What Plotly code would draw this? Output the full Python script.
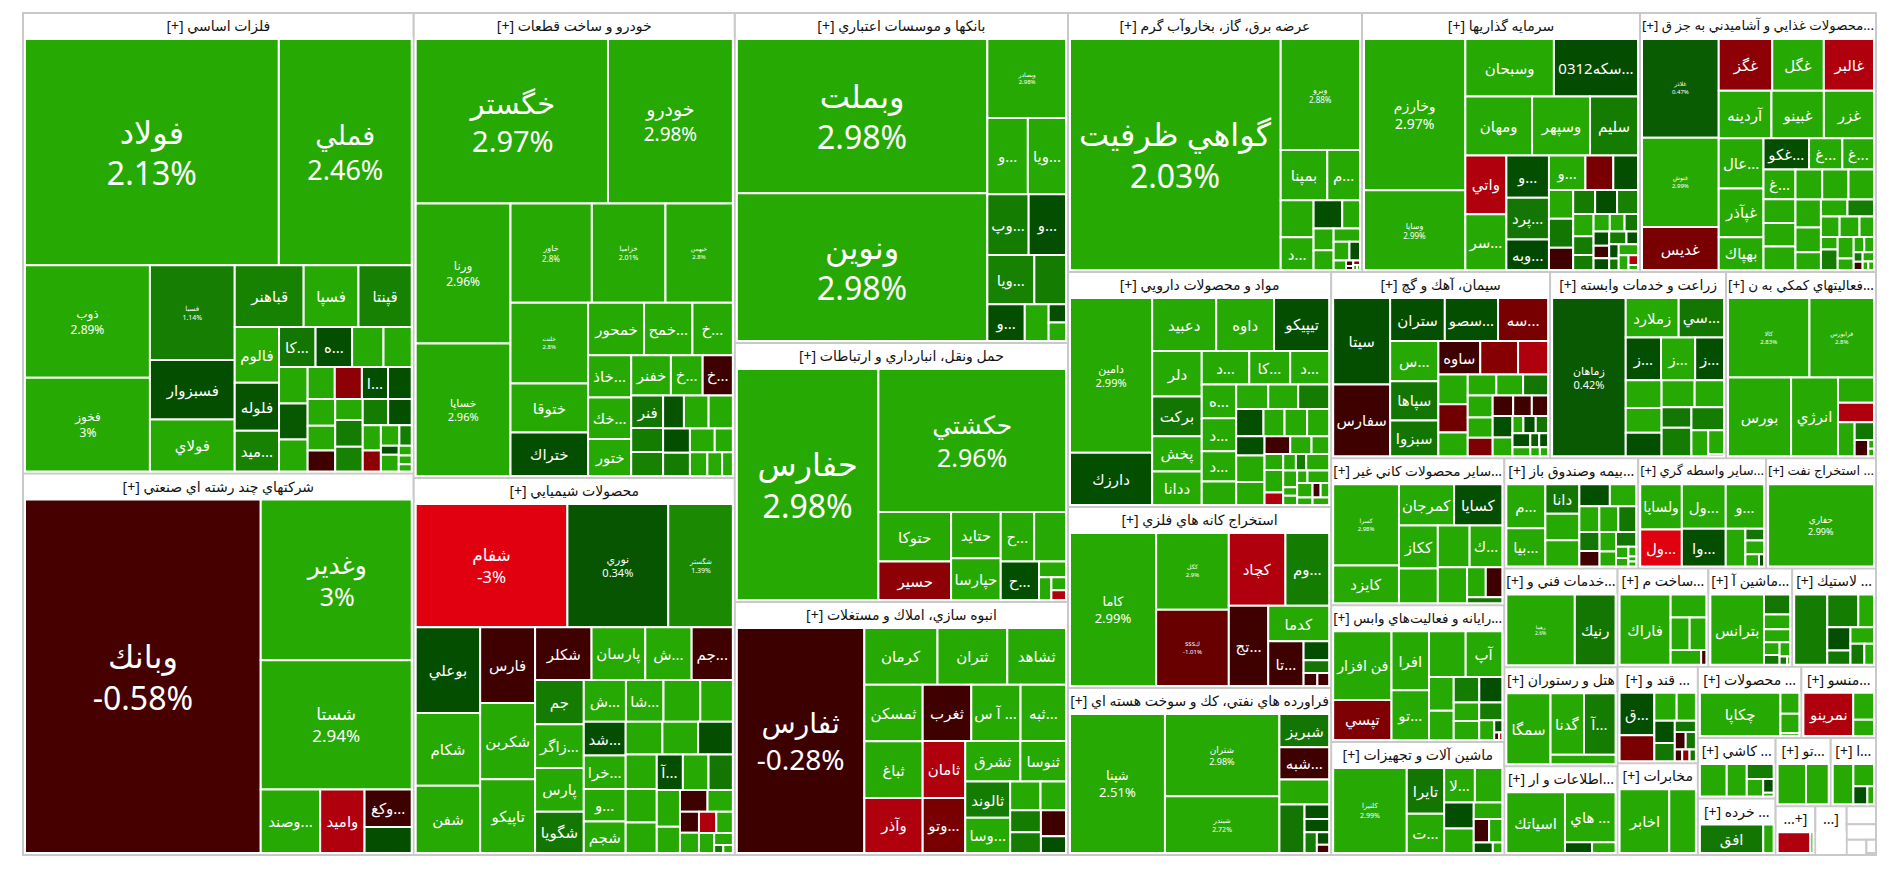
import plotly.graph_objects as go

# ---- sector headers and totals ----
sector_titles = [
    "فلزات اساسي [+]", "شركتهاي چند رشته اي صنعتي [+]", "خودرو و ساخت قطعات [+]", "محصولات شيميايي [+]",
    "بانكها و موسسات اعتباري [+]", "حمل ونقل، انبارداري و ارتباطات [+]", "انبوه سازي، املاك و مستغلات [+]",
    "عرضه برق، گاز، بخاروآب گرم [+]", "سرمايه گذاريها [+]", "...محصولات غذايي و آشاميدني به جز ق [+]",
    "مواد و محصولات دارويي [+]", "استخراج كانه هاي فلزي [+]", "فراورده هاي نفتي، كك و سوخت هسته اي [+]",
    "سيمان، آهك و گچ [+]", "زراعت و خدمات وابسته [+]", "...فعاليتهاي كمكي به ن [+]",
    "...ساير محصولات كاني غير [+]", "...رايانه و فعاليت‌هاي وابس [+]", "ماشين آلات و تجهيزات [+]",
    "...بيمه وصندوق باز [+]", "...ساير واسطه گري [+]", "... استخراج نفت [+]",
    "...خدمات فني و [+]", "هتل و رستوران [+]", "...اطلاعات و ار [+]",
    "...ساخت م [+]", "...ماشين آ [+]", "... لاستيك [+]",
    "... قند و [+]", "مخابرات [+]", "... محصولات [+]", "...منسو [+]",
    "... كاشي [+]", "... خرده [+]", "...تو [+]", "...ا [+]", "[+...", "[...",
]
sector_totals = [
    179860, 148971, 149265, 121017, 109890, 86247, 84249, 76146, 72002, 61124,
    61805, 47603, 43921, 40734, 32736, 27900, 25431, 23701, 19549,
    14740, 14080, 12100, 11187, 11187, 10057, 8918, 8232, 8232,
    7760, 7360, 7384, 5325, 4697, 4389, 3752, 3082, 1938, 1530,
]

n01 = ["فولاد","فملي","ذوب","فخوز","فسبا","فسبزوار","فولاي","قباهنر","فسپا","قپنتا","فالوم","فلوله","...ميد","...كا","...ه","","","","","","","","...ا"]
v01 = [3624,1897,886,739,507,317,279,268,213,207,156,134,114,92,92,79,71,66,65,58,55,55,53,48,46.5,43,36.5,36.5,46.5,43,42,39,29,24,24,16,10,19,8,7,6]
c01 = [2.13,2.46,2.89,3,1.14,.2,2.9,1.2,2.9,1.2,2.9,.3,1.2,1.0,.2,2.9,2.9,2.9,.4,2.9,2.9,-1.5,.2,.2,2.9,2.9,-.5,2.9,1.1,1.2,1.1,.2,2.9,-1.5,2.9,1.1,.2,2.9,2.9,2.9,2.9]

n02 = ["وبانك","وغدير","شستا","...وصند","واميد","...وكغ"]
v02 = [5237,1525,1227,237,177,111,77]
c02 = [-.58,3,2.94,2.9,-2,-.5,.2]

n03 = ["خگستر","خودرو","ورنا","خساپا","خاور","خزاميا","خبهمن","خلنت","ختوقا","ختراك","خمحور","...خمح","...خ","...خاذ","...خك","ختور","خفنر","...خ ","...خ  ","فنر"]
v03 = [1982,1287,832,788,507,459,420,392,238,212,184,159,133,114,112,100,100,80,76,65,48,48,43,51,50,41,39,37,27,26,22,16]
c03 = [2.97,2.98,2.96,2.96,2.8,2.01,2.8,2.8,2.9,.2,2.9,2.9,2.9,2.9,2.9,2.9,2.9,2.9,-.5,1,1.1,1.2,.3,2.9,2.9,.2,1.1,2.9,2.9,2.9,2.9,2.9]

n04 = ["شفام","نوري","شگستر","بوعلي","شكام","شفن","فارس","شكربن","تاپيكو","شكلر","پارسان","...ش","...جم","جم","...زاگر","پارس","شگويا","...ش ","...شا","","","...شد","...خرا","...و","شجم","","","","","","","...آ"]
v04 = [1167,776,497,344,293,270,259,261,253,185,176,152,135,135,133,133,125,110,98,96,85,88,88,85,82,75,73,71,67,65,59,58,57,54,53,38,37,34,25,24,23,22,19,14,4.6,4.8]
c04 = [-3,.34,1.39,.2,2.9,2.9,-.5,2.9,2.9,-.5,2.9,2.9,-.5,1.1,2.9,2.9,1,2.9,2.9,2.9,2.9,.2,2.9,2.9,2.9,2.9,2.9,.2,2.9,2.9,2.9,.2,2.9,1,2.9,2.9,-.5,2.9,-.5,2.9,-2,2.9,2.9,2.9,1,2.9]

n05 = ["وبملت","ونوين","وبصادر","...و","...ويا","...وپ","...و ","...ويا ","","...و  "]
v05 = [3032,2901,488,242,228,197,178,181,122,108,69,25,25]
c05 = [2.98,2.98,2.98,2.9,2.9,1.1,.2,1.2,1.1,.2,2.9,.2,2.9]

n06 = ["حفارس","حكشتي","حتوكا","حسير","حتايد","حپارسا","...ح","","...ح "]
v06 = [2553,2096,281,218,179,162,129,123,115,33,22,15,11]
c06 = [2.98,2.96,2.9,-1.5,2.9,2.9,2.9,2.9,.2,2.9,2.9,2.9,-2]

n07 = ["ثفارس","كرمان","ثتران","ثشاهد","ثمسكن","ثباغ","وآذر","ثغرب","... آ س","...ثبه","ثامان","...وتو","ثشرق","ثنوسا","ثالوند","...وسا"]
v07 = [2241,324,309,260,258,258,251,214,217,200,189,183,174,144,127,124,68,57,53,50,51,33]
c07 = [-.28,2.9,2.9,2.9,2.9,2.9,-2,-.5,2.9,2.9,-2,-1.2,2.9,2.9,1.1,2.9,2.9,2.9,1.1,1.1,-.5,.2]

n08 = ["گواهي ظرفيت","وبرو","بمپنا","...م","","...د"]
v08 = [48952,8848,2350,1650,1221,1089,812,504,440,400,350,300,200,120,40,30,30,20,15]
c08 = [2.03,2.88,2.9,2.9,2.9,2.9,.2,2.9,2.9,2.9,2.9,2.9,.2,2.9,-.5,-.5,-1.5,2.9,2.9]

n09 = ["وخارزم","وساپا","وسبحان","...سكه0312","ومهان","وسپهر","سليم","واتي","...سر","...و","...پرد","...وبه","...و "]
v09 = [1247,658,415,394,320,278,230,196,186,146,145,106,102,78,69,57,57,44,43,43,41,37,31,25,23,21,19,18,16,15,18,12,11,9,17,12,7.5,4]
c09 = [2.97,2.99,2.9,.15,2.9,2.9,1.1,-2,2.9,.2,1,.1,2.9,-1.2,.2,2.9,1,-.5,1.1,.2,1.2,2.9,1.1,1.1,2.9,2.9,1,.2,-.5,.2,1.1,.2,.2,1,2.9,2.9,-2,2.9]

n10 = ["غلاذر","غنوش","غديس","غگز","غگل","غالبر","آردينه","غبينو","غزر","...عال","غپآذر","بهپاك","...غكو","...غ","...غ ","...غ  "]
v10 = [615,555,269,225,217,211,203,202,193,182,178,119,115,84,80,77,62,61,61,65,64,62,58,51,37,37,37,31,33,24,17,28,28,15,13,12,7,6,8.5,4,4]
c10 = [.47,2.99,-1.2,-1.5,2.9,-2,2.9,2.9,2.9,2.9,2.9,2.9,.2,2.9,2.9,2.9,2.9,2.9,2.9,2.9,2.9,2.9,2.9,2.9,2.9,2.9,1.1,2.9,2.9,2.9,2.9,1.1,2.9,2.9,2.9,2.9,1,-.5,2.9,2.9,2.9]

n11 = ["دامين","دارزك","دعبيد","داوه","تيپيكو","دلر","بركت","پخش","ددانا","...د","...كا","...د ","...ه","...د  ","...د   "]
v11 = [973,329,259,234,223,173,151,134,127,122,105,100,89,87,80,62,60,56,58,57,44,47,46,42,58,50,35,29,24,23,32,18,16,13,29,18,9,10,10,21,17,9,9,9.5,9.5]
c11 = [2.99,.2,2.9,2.9,.2,2.9,1,2.9,2.9,2.9,2.9,2.9,2.9,2.9,2.9,2.9,2.9,2.9,1.1,.2,2.9,2.9,2.9,.2,2.9,2.9,-.5,2.9,2.9,2.9,2.9,-2,2.9,1.1,2.9,2.9,2.9,2.9,2.9,2.9,2.9,2.9,-.5,2.9,2.9]

n12 = ["كاما","كگل","كSSS","كچاد","...وم","...تج","كدما","...تا"]
v12 = [1024,433,431,320,247,246,168,123,38,25,14,12]
c12 = [2.99,2.9,-1.01,-2,1.1,-.5,2.9,-.5,.2,1,-.5,-.5]

n13 = ["شپنا","شتران","شبندر","شبريز","...شبه"]
v13 = [1038,741,510,130,126,98,96,28,26,20,12,8]
c13 = [2.51,2.98,2.72,1,-.5,2.9,1,.2,.2,1.1,.2,-.5]

n14 = ["سيتا","سفارس","ستران","...سصو","...سه","...س","سپاها","سبزوا","ساوه"]
v14 = [396,329,189,184,173,156,152,139,113,102,81,70,67,56,48,45,42,44,41,37,34,31,27,34,30,15,17,17,20,13,10,10,7,6]
c14 = [.2,-.5,.2,.2,-1.2,2.9,1,1,-.5,-1.4,-2,2.9,-1.1,2.9,2.9,2.9,1,2.9,2.9,-1.3,-.5,-.5,-.5,.2,2.9,2.9,.2,1,.2,2.9,.5,.2,2.9,2.9]

n15 = ["زماهان","زملارد","...سي","...ز","...ز ","...ز  "]
v15 = [934,167,143,121,117,99,80,71,68,72,64,49,68,60,35,30,3]
c15 = [.42,2.9,1,.2,2.9,.2,2.9,2.9,.2,2.9,2.9,1,1.1,1.1,2.9,2.9,2.9]

n16 = ["كالا","فرابورس","بورس","انرژي"]
v16 = [526,417,404,301,74,57,46,28,18,4,3.5]
c16 = [2.83,2.8,2.9,2.9,2.9,-2,2.9,1,-.5,2.9,2.9]

n17 = ["كسرا","كايزد","كمرجان","كسايا","ككاز","","","...ك"]
v17 = [418,193,177,155,131,105,104,107,82,44,39,16]
c17 = [2.98,2.9,2.9,.2,2.9,2.9,2.9,2.9,2.9,2.9,-.5,1]

n18 = ["فن افزار","تپسي","افرا","...تو","","آپ"]
v18 = [322,188,178,150,135,135,67,58,52,47,38,39,33,24,8,3,2]
c18 = [2.9,-1.3,2.9,2.9,2.9,2.9,2.9,2.9,1.1,.2,2.9,2.9,1.1,2.9,.2,-.5,-2]

n19 = ["كلنيرا","تايرا","...ت","...لا"]
v19 = [502,137,118,85,76,62,58,38,29,25,16,8]
c19 = [2.99,1,2.9,2.9,2.9,.2,2.9,2.9,-.5,2.9,.2,2.9]

n20 = ["...م","...بيا","دانا"]
v20 = [133,116,78,70,69,52,45,40,38,36,30,24,25,19,23,11,8,6,3,3]
c20 = [2.9,2.9,1,2.9,2.9,.2,2.9,2.9,2.9,1,1,-.5,2.9,2.9,1,2.9,2.9,2.9,2.9,2.9]

n21 = ["ولساپا","...ول ","...ول","...وا","...و"]
v21 = [138,112,143,121,125,54,16,19,12,4.5]
c21 = [2.9,-3,2.9,.2,2.9,2.9,1,2.9,2.9,.2]

n22 = ["حفاري"]
v22 = [1]
c22 = [2.99]

n23 = ["رهپيا","رنيك"]
v23 = [388,231]
c23 = [2.6,1]

n24 = ["سمگا","گدنا","...آ"]
v24 = [242,159,150,47]
c24 = [2.9,2.9,1.1,2.9]

n25 = ["اسياتك","... هاي"]
v25 = [285,203,23,20]
c25 = [2.9,2.9,.2,2.9]

n26 = ["فاراك"]
v26 = [283,65,49,43,35,6]
c26 = [2.9,2.9,2.9,2.9,2.9,-.5]

n27 = ["بترانس"]
v27 = [301,42,31,27,16,12,12,5,2]
c27 = [2.9,1,2.9,2.9,2.9,1,2.9,1,2.9]

n28 = []
v28 = [185,81,41,43,26,31,23,16]
c28 = [1.1,1.1,2.9,.2,1,2.9,1,2.9]

n29 = ["...ق"]
v29 = [118,72,50,43,36,30,19,15,14,7,7,6]
c29 = [.2,-1.2,2.9,2.9,.2,1,1,-.5,1,-.5,-1.5,1]

n30 = ["اخابر"]
v30 = [261,140]
c30 = [2.9,2.9]

n31 = ["چكاپا"]
v31 = [273,31,29,4]
c31 = [2.9,2.9,2.9,2.9]

n32 = ["نمرينو"]
v32 = [173,45,27]
c32 = [-2,2.9,2.9]

n33 = []
v33 = [67,50,31,22,11,3]
c33 = [2.9,2.9,1.1,2.9,.2,2.9]

n34 = ["افق"]
v34 = [153,25]
c34 = [1,2.9]

n35 = []
v35 = [90,72]
c35 = [2.9,2.9]

n36 = []
v36 = [63,35,19,9]
c36 = [2.9,2.9,.2,2.9]

n37 = []
v37 = [56,5]
c37 = [-2,2.9]

n38 = []
v38 = [1]
c38 = [None]

sector_names = [n01,n02,n03,n04,n05,n06,n07,n08,n09,n10,n11,n12,n13,n14,n15,n16,n17,n18,n19,n20,n21,n22,n23,n24,n25,n26,n27,n28,n29,n30,n31,n32,n33,n34,n35,n36,n37,n38]
sector_values = [v01,v02,v03,v04,v05,v06,v07,v08,v09,v10,v11,v12,v13,v14,v15,v16,v17,v18,v19,v20,v21,v22,v23,v24,v25,v26,v27,v28,v29,v30,v31,v32,v33,v34,v35,v36,v37,v38]
sector_changes = [c01,c02,c03,c04,c05,c06,c07,c08,c09,c10,c11,c12,c13,c14,c15,c16,c17,c18,c19,c20,c21,c22,c23,c24,c25,c26,c27,c28,c29,c30,c31,c32,c33,c34,c35,c36,c37,c38]

# trailing tiny top-level boxes with no header
tail_values = [528, 458, 300, 125, 20]
tail_changes = [None, None, None, None, 2.9]

# ---- styling ----
pct_label_sizes = {
    "فولاد":32,"فملي":27,"ذوب":12,"فخوز":12,"فسبا":7,"خگستر":29,"خودرو":19,"ورنا":12,"خساپا":11,"خاور":8,"خزاميا":7,"خبهمن":6,"خلنت":6,
    "وبانك":32,"وغدير":25,"شستا":17,"شفام":17,"نوري":11,"شگستر":7,"وبملت":32,"ونوين":32,"وبصادر":6,"گواهي ظرفيت":32,"وبرو":8,
    "حفارس":32,"حكشتي":25,"ثفارس":28,"وخارزم":14,"وساپا":8,"غلاذر":6,"غنوش":6,"دامين":11,"كاما":13,"كگل":6,"كSSS":6,
    "شپنا":13,"شتران":9,"شبندر":7,"زماهان":11,"كالا":6,"فرابورس":6,"كسرا":6,"كلنيرا":7,"حفاري":9,"رهپيا":5,
}
FONT = "Noto Sans, DejaVu Sans, sans-serif"
SECTOR_LINE = "#c9c9c9"
HEADER_PAD = 26
SHIFT_UP = 13  # the hidden root also reserves a header strip; slide it out of the page
LRM = "\u200e"

def rgb_mix(a, b, t):
    return tuple(round(a[i] + (b[i] - a[i]) * t) for i in range(3))

RED_STOPS = [(-3, (224, 0, 15)), (-2, (176, 0, 13)), (-1.2, (120, 0, 0)), (-0.5, (63, 0, 0)), (0, (58, 0, 0))]

def change_color(c):
    if c is None:
        return "#ffffff"
    if c >= 0:
        t = min(c / 2.0, 1.0)
        r, g, b = rgb_mix((0, 68, 0), (39, 169, 3), t)
    else:
        c = max(c, -3)
        for (c0, col0), (c1, col1) in zip(RED_STOPS, RED_STOPS[1:]):
            if c0 <= c <= c1:
                r, g, b = rgb_mix(col0, col1, (c - c0) / (c1 - c0))
                break
    return f"rgb({r},{g},{b})"

ids, parents, labels, values, colors, line_colors, line_widths, texts, sizes, font_colors = [], [], [], [], [], [], [], [], [], []

for i, title in enumerate(sector_titles):
    sid = f"s{i}"
    ids.append(sid); parents.append(""); values.append(0)
    labels.append(title)
    texts.append(LRM + title + LRM if title.startswith("[") else title)
    colors.append("#ffffff"); line_colors.append(SECTOR_LINE); line_widths.append(2)
    sizes.append(14); font_colors.append("#111111")
    names = sector_names[i]
    vals = sector_values[i]
    chgs = sector_changes[i]
    if len(vals) != len(chgs):
        raise ValueError(f"sector {i}: {len(vals)} values, {len(chgs)} changes")
    nm = list(names) + [""] * (len(vals) - len(names))
    scale = sector_totals[i] / sum(vals)
    for k in range(len(vals)):
        ids.append(f"{sid}_{k}"); parents.append(sid)
        values.append(vals[k] * scale)
        name = nm[k].strip()
        labels.append(name)
        colors.append(change_color(chgs[k])); line_colors.append("#ffffff"); line_widths.append(2)
        font_colors.append("#ffffff")
        if name in pct_label_sizes:
            texts.append(f"{name}<br>{LRM}{chgs[k]:g}%")
            sizes.append(pct_label_sizes[name])
        elif name:
            texts.append(name)
            sizes.append(15)
        else:
            texts.append("")
            sizes.append(10)

for j, (v, c) in enumerate(zip(tail_values, tail_changes)):
    ids.append(f"t{j}"); parents.append(""); values.append(v); labels.append("")
    colors.append(change_color(c)); line_colors.append(SECTOR_LINE); line_widths.append(2)
    texts.append(""); sizes.append(10); font_colors.append("#ffffff")

fig = go.Figure(go.Treemap(
    ids=ids, parents=parents, labels=labels, values=values, text=texts,
    branchvalues="remainder", sort=False,
    textinfo="text", textposition="middle center",
    textfont=dict(family=FONT, size=sizes, color=font_colors),
    marker=dict(colors=colors, line=dict(color=line_colors, width=line_widths),
                pad=dict(t=HEADER_PAD, l=2, r=2, b=2)),
    tiling=dict(packing="squarify", squarifyratio=1, pad=0),
    pathbar=dict(visible=False),
    hoverinfo="skip",
))
fig.update_layout(
    width=1900, height=873 + SHIFT_UP, autosize=False,
    margin=dict(l=21, r=22, t=0, b=16),
    paper_bgcolor="#ffffff",
    font=dict(family=FONT),
)
fig.write_html(
    "out.html",
    config={"displayModeBar": False},
    post_script=(
        "document.body.style.margin='0';document.body.style.overflow='hidden';"
        f"document.querySelector('.plotly-graph-div').style.marginTop='-{SHIFT_UP}px';"
        "document.querySelectorAll('.slicetext text').forEach(function(t){"
        "var a=getComputedStyle(t).textAnchor;"
        "t.style.direction='rtl';t.style.unicodeBidi='embed';"
        "if(a==='start'){t.style.textAnchor='end';}"
        "else if(a==='end'){t.style.textAnchor='start';}"
        "});"
    ),
)
